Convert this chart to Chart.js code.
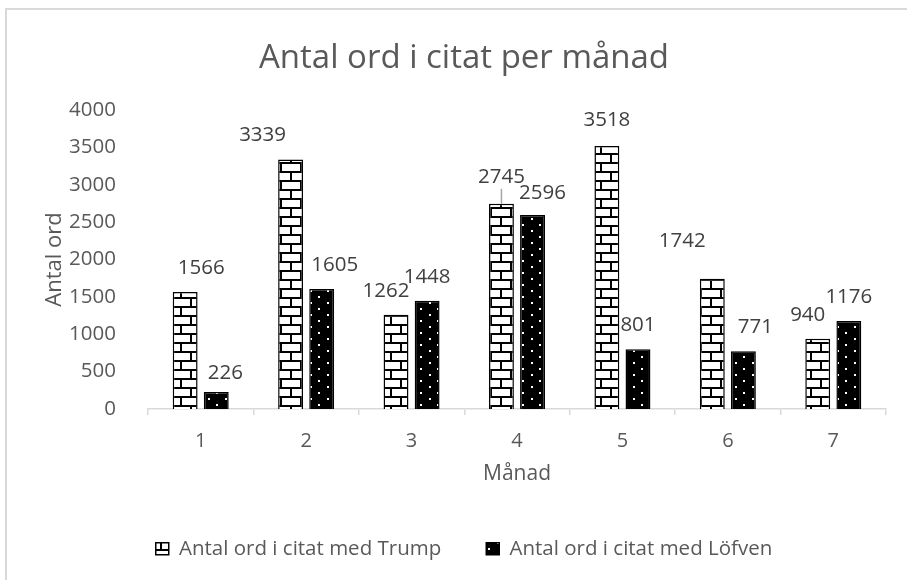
<!DOCTYPE html>
<html>
<head>
<meta charset="utf-8">
<script src="https://cdn.jsdelivr.net/npm/chart.js@4.4.0/dist/chart.umd.min.js"></script>
<style>
  body { margin: 0; background: #fff; }
  #wrap { width: 907px; height: 580px; }
</style>
</head>
<body>
<div id="wrap"><canvas id="wordChart" width="907" height="580"></canvas></div>
<script>
// Data
const months = ['1', '2', '3', '4', '5', '6', '7'];
const trumpWords = [1566, 3339, 1262, 2745, 3518, 1742, 940];
const lofvenWords = [226, 1605, 1448, 2596, 801, 771, 1176];
const yMin = 0;
const yMax = 4000;
const yStep = 500;

// Hand-moved data labels in the original: [dx, dy] in px from "centred above the bar"
const trumpLabelShift = [[16, 0], [-28, 0], [-10, 0], [0, -3], [0, -2], [-30, -14], [-10, 0]];
const lofvenLabelShift = [[9, 5], [13, 0], [0, 0], [10, 2], [0, 0], [12, 0], [0, 0]];
const leaderLines = [[0, 3]]; // [datasetIndex, index] labels with a small connector

const FONT = "'Open Sans', 'Liberation Sans', sans-serif";
const GREY_TEXT = '#595959';

// Brick pattern for the Trump bars
function brickPattern() {
    const c = document.createElement('canvas');
    c.width = 20;
    c.height = 18;
    const g = c.getContext('2d');
    g.fillStyle = '#fff';
    g.fillRect(0, 0, 20, 18);
    g.fillStyle = '#000';
    g.fillRect(0, 0, 20, 2);
    g.fillRect(0, 9, 20, 2);
    g.fillRect(0, 0, 2, 9);
    g.fillRect(10, 9, 2, 9);
    return g.createPattern(c, 'repeat');
}

// Black with small white dots for the Löfven bars
function dotPattern() {
    const c = document.createElement('canvas');
    c.width = 17;
    c.height = 12;
    const g = c.getContext('2d');
    g.fillStyle = '#000';
    g.fillRect(0, 0, 17, 12);
    g.fillStyle = '#fff';
    g.fillRect(4, 2, 2, 2);
    g.fillRect(12, 8, 2, 2);
    return g.createPattern(c, 'repeat');
}

// white background and the light grey frame
const framePlugin = {
    id: 'frame',
    beforeDraw(chart) {
        const ctx = chart.ctx;
        ctx.save();
        ctx.fillStyle = '#fff';
        ctx.fillRect(0, 0, chart.width, chart.height);
        ctx.strokeStyle = '#d9d9d9';
        ctx.lineWidth = 2;
        ctx.strokeRect(6, 9, chart.width + 10, chart.height + 10);
        ctx.restore();
    }
};

// value labels above the bars
const valueLabels = {
    id: 'valueLabels',
    afterDatasetsDraw(chart) {
        const ctx = chart.ctx;
        const shifts = [trumpLabelShift, lofvenLabelShift];
        ctx.save();
        ctx.font = '20.5px ' + FONT;
        ctx.fillStyle = '#404040';
        ctx.textAlign = 'center';
        ctx.textBaseline = 'middle';
        chart.data.datasets.forEach((ds, di) => {
            const meta = chart.getDatasetMeta(di);
            meta.data.forEach((bar, i) => {
                const [dx, dy] = shifts[di][i];
                const x = bar.x + dx;
                const y = bar.y - 24 + dy;
                ctx.fillText(String(ds.data[i]), x, y);
                if (leaderLines.some(l => l[0] === di && l[1] === i)) {
                    ctx.strokeStyle = '#a6a6a6';
                    ctx.lineWidth = 1.5;
                    ctx.beginPath();
                    ctx.moveTo(bar.x, y + 12);
                    ctx.lineTo(bar.x, bar.y);
                    ctx.stroke();
                }
            });
        });
        ctx.restore();
    }
};

const ctx = document.getElementById('wordChart').getContext('2d');

new Chart(ctx, {
    type: 'bar',
    data: {
        labels: months,
        datasets: [
            {
                label: 'Antal ord i citat med Trump',
                data: trumpWords,
                backgroundColor: brickPattern(),
                borderColor: '#000',
                borderWidth: 1.5,
                categoryPercentage: 0.59,
                barPercentage: 0.8
            },
            {
                label: 'Antal ord i citat med Löfven',
                data: lofvenWords,
                backgroundColor: dotPattern(),
                borderColor: '#000',
                borderWidth: 1.5,
                categoryPercentage: 0.59,
                barPercentage: 0.8
            }
        ]
    },
    options: {
        responsive: false,
        animation: false,
        layout: { padding: { left: 42, right: 21, top: 0, bottom: 11 } },
        plugins: {
            title: {
                display: true,
                text: 'Antal ord i citat per månad',
                color: GREY_TEXT,
                font: { family: FONT, size: 33, weight: 'normal' },
                padding: { top: 39, bottom: 31.4 }
            },
            legend: {
                position: 'bottom',
                labels: {
                    color: GREY_TEXT,
                    boxWidth: 13,
                    boxHeight: 12,
                    padding: 45,
                    font: { family: FONT, size: 20.5 }
                }
            },
            tooltip: { enabled: false }
        },
        scales: {
            x: {
                grid: { drawOnChartArea: false, color: '#d9d9d9', lineWidth: 1.5, tickLength: 6 },
                border: { color: '#d9d9d9', width: 1.5 },
                ticks: { color: GREY_TEXT, padding: 14, font: { family: FONT, size: 20 } },
                title: {
                    display: true,
                    text: 'Månad',
                    color: GREY_TEXT,
                    font: { family: FONT, size: 21 },
                    padding: { top: 0, bottom: 7 }
                },
                afterFit(scale) { scale.height = 84.5; }
            },
            y: {
                min: yMin,
                max: yMax,
                grid: { display: false },
                border: { display: false },
                ticks: {
                    stepSize: yStep,
                    color: GREY_TEXT,
                    padding: 24,
                    font: { family: FONT, size: 20.5 },
                    callback: v => String(v)
                },
                title: {
                    display: true,
                    text: 'Antal ord',
                    color: GREY_TEXT,
                    font: { family: FONT, size: 22 },
                    padding: { top: 0, bottom: 0 }
                },
                afterFit(scale) { scale.width = 106; }
            }
        }
    },
    plugins: [framePlugin, valueLabels]
});
</script>
</body>
</html>
